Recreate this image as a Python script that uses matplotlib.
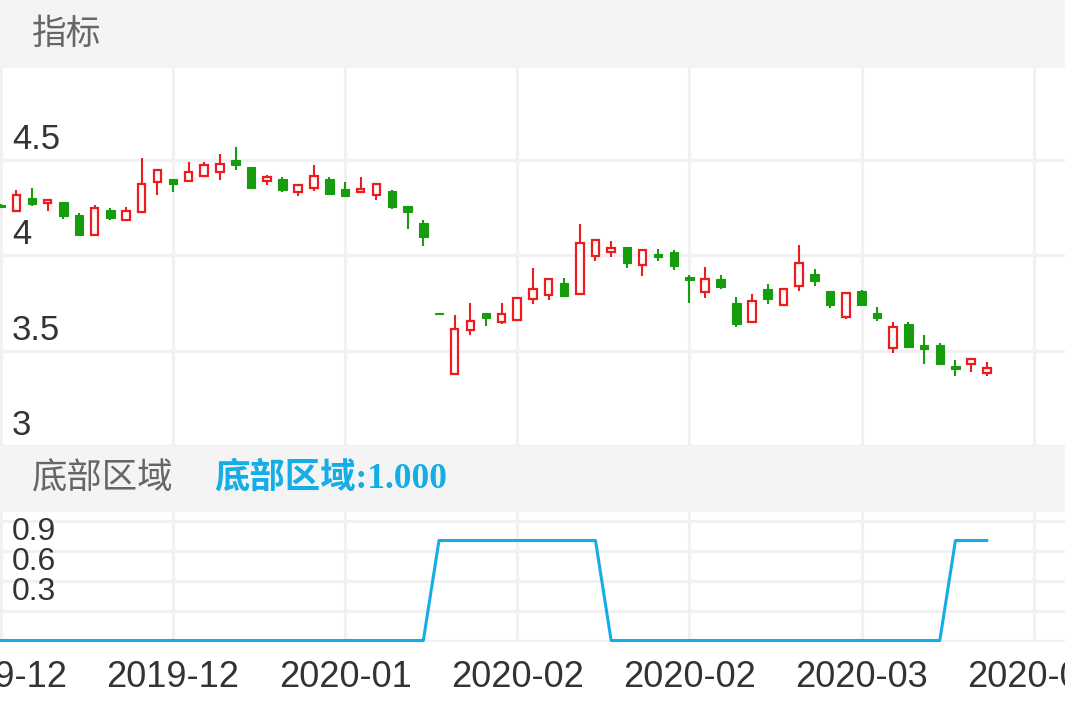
import matplotlib
matplotlib.use("Agg")
import matplotlib.pyplot as plt
from matplotlib.patches import Rectangle

plt.rcParams['font.family'] = ['Liberation Sans', 'Noto Sans CJK SC', 'DejaVu Sans']

# daily candles (open / high / low / close)
opens = [4.265, 4.236, 4.300, 4.278, 4.280, 4.210, 4.106, 4.241, 4.188, 4.228,
         4.384, 4.399, 4.392, 4.415, 4.440, 4.500, 4.467, 4.392, 4.401, 4.335,
         4.353, 4.400, 4.349, 4.335, 4.318, 4.340, 4.259, 4.172, 3.700, 3.377,
         3.611, 3.698, 3.651, 3.660, 3.772, 3.790, 3.854, 3.798, 3.998, 4.019,
         4.042, 3.950, 4.010, 4.016, 3.885, 3.810, 3.877, 3.752, 3.651, 3.823,
         3.740, 3.842, 3.903, 3.814, 3.677, 3.816, 3.698, 3.516, 3.638, 3.528,
         3.530, 3.420, 3.433, 3.385]
highs = [4.270, 4.344, 4.354, 4.295, 4.280, 4.222, 4.266, 4.248, 4.254, 4.510,
         4.449, 4.400, 4.490, 4.488, 4.531, 4.571, 4.467, 4.420, 4.413, 4.371,
         4.474, 4.410, 4.384, 4.410, 4.375, 4.345, 4.260, 4.188, 3.700, 3.689,
         3.750, 3.698, 3.750, 3.780, 3.936, 3.880, 3.880, 4.167, 4.080, 4.076,
         4.042, 4.030, 4.036, 4.028, 3.900, 3.937, 3.897, 3.780, 3.798, 3.849,
         3.830, 4.057, 3.927, 3.814, 3.802, 3.820, 3.729, 3.651, 3.651, 3.582,
         3.542, 3.451, 3.455, 3.441]
lows = [4.250, 4.231, 4.262, 4.231, 4.189, 4.106, 4.100, 4.184, 4.185, 4.222,
        4.319, 4.332, 4.387, 4.410, 4.397, 4.448, 4.350, 4.370, 4.332, 4.310,
        4.340, 4.315, 4.310, 4.335, 4.292, 4.245, 4.140, 4.050, 3.695, 3.377,
        3.585, 3.629, 3.640, 3.655, 3.745, 3.764, 3.780, 3.798, 3.972, 3.993,
        3.932, 3.892, 3.970, 3.925, 3.753, 3.776, 3.825, 3.624, 3.651, 3.745,
        3.734, 3.814, 3.842, 3.724, 3.667, 3.735, 3.655, 3.486, 3.516, 3.429,
        3.432, 3.368, 3.389, 3.368]
closes = [4.255, 4.318, 4.271, 4.293, 4.207, 4.106, 4.248, 4.196, 4.236, 4.375,
          4.449, 4.375, 4.440, 4.474, 4.479, 4.474, 4.354, 4.410, 4.345, 4.371,
          4.415, 4.323, 4.314, 4.349, 4.375, 4.254, 4.228, 4.097, 3.695, 3.615,
          3.655, 3.672, 3.693, 3.776, 3.823, 3.877, 3.788, 4.063, 4.080, 4.040,
          3.958, 4.028, 3.990, 3.946, 3.870, 3.875, 3.832, 3.640, 3.762, 3.770,
          3.823, 3.962, 3.868, 3.738, 3.802, 3.738, 3.672, 3.625, 3.521, 3.507,
          3.432, 3.406, 3.455, 3.411]

# "bottom zone" indicator (0 / 1)
bottom_zone = [0] * 28 + [1] * 11 + [0] * 22 + [1] * 3

tick_idx = [0, 11, 22, 33, 44, 55, 66]
tick_labels = ['2019-12', '2019-12', '2020-01', '2020-02', '2020-02', '2020-03', '2020-03']
price_ticks = [3, 3.5, 4, 4.5]
price_tick_labels = ['3', '3.5', '4', '4.5']
ind_ticks = [0.3, 0.6, 0.9]
ind_tick_labels = ['0.3', '0.6', '0.9']

RED = '#ee1b1f'
GREEN = '#169c0c'
BLUE = '#14ade6'
GRID = '#f1f1f3'
BAND = '#f4f4f4'

W, H = 1065, 708
fig = plt.figure(figsize=(W / 100, H / 100), dpi=100)
fig.patch.set_facecolor('white')

# grey title bands
top_band = fig.add_axes([0, 1 - 68 / H, 1, 68 / H])
mid_band = fig.add_axes([0, 1 - 512 / H, 1, 66 / H])
for b in (top_band, mid_band):
    b.set_facecolor(BAND)
    b.set_xticks([])
    b.set_yticks([])
    for s in b.spines.values():
        s.set_visible(False)

fig.text(32 / W, 1 - 34 / H, '指标', fontsize=25, color='#666666',
         va='center', ha='left', family=['Noto Sans CJK SC'])
fig.text(32 / W, 1 - 479 / H, '底部区域', fontsize=25.5, color='#666666',
         va='center', ha='left', family=['Noto Sans CJK SC'])
fig.text(214 / W, 1 - 479 / H, '底部区域:1.000', fontsize=25.5, color=BLUE,
         va='center', ha='left', fontweight='bold',
         family=['Liberation Serif', 'Noto Sans CJK SC'])

ax = fig.add_axes([0, 1 - 446 / H, 1, 378 / H])
ax2 = fig.add_axes([0, 1 - 642 / H, 1, 130 / H])

xlim = (-0.05, 68.0)


def style_panel(a):
    a.set_xlim(*xlim)
    for s in a.spines.values():
        s.set_visible(False)
    a.set_xticks(tick_idx)
    a.grid(True, color=GRID, linewidth=2.2)
    a.set_axisbelow(True)
    a.tick_params(length=0)
    a.set_yticklabels([])


# candlesticks
for i in range(len(opens)):
    o, h, l, c = opens[i], highs[i], lows[i], closes[i]
    if c >= o:
        ax.vlines(i, max(o, c), h, color=RED, linewidth=1.5)
        ax.vlines(i, l, min(o, c), color=RED, linewidth=1.5)
        ax.add_patch(Rectangle((i - 0.24, o), 0.48, c - o, facecolor='white',
                               edgecolor=RED, linewidth=1.6, zorder=3))
    else:
        ax.vlines(i, l, h, color=GREEN, linewidth=1.5)
        ax.add_patch(Rectangle((i - 0.27, c), 0.54, o - c, facecolor=GREEN,
                               edgecolor=GREEN, linewidth=0.8, zorder=3))

style_panel(ax)
ax.set_ylim(3.016, 4.984)
ax.set_yticks(price_ticks)
ax.set_xticklabels([])
for v, t in zip(price_ticks, price_tick_labels):
    ax.annotate(t, xy=(0, v), xycoords=ax.get_yaxis_transform(),
                xytext=(12, 11), textcoords='offset pixels',
                fontsize=25, color='#333333', va='baseline', ha='left')

# indicator line
ax2.plot(range(len(bottom_zone)), bottom_zone, color=BLUE, linewidth=2.2,
         zorder=3, clip_on=False)
style_panel(ax2)
ax2.set_ylim(-0.015, 1.285)
ax2.set_yticks([0, 0.3, 0.6, 0.9, 1.2])
ax2.set_xticklabels(tick_labels, fontsize=26, color='#333333')
ax2.tick_params(axis='x', pad=13)
for v, t in zip(ind_ticks, ind_tick_labels):
    ax2.annotate(t, xy=(0, v), xycoords=ax2.get_yaxis_transform(),
                 xytext=(12, 11), textcoords='offset pixels',
                 fontsize=23, color='#333333', va='baseline', ha='left')

fig.savefig('out.png', dpi=100)
